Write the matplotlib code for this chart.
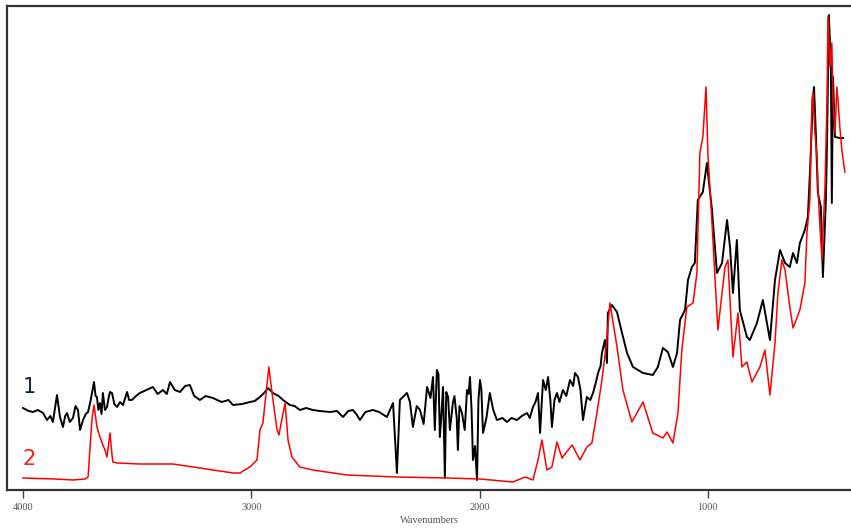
import numpy as np
import matplotlib
matplotlib.use("Agg")
import matplotlib.pyplot as plt

# spectrum 2 (red)
wn_2 = [4000, 3860, 3781, 3728, 3715, 3698, 3689, 3676, 3663, 3650, 3641, 3632, 3619, 3610,
        3606, 3588, 3488, 3343, 3225, 3080, 3050, 3006, 2975, 2962, 2949, 2923, 2909, 2887,
        2879, 2852, 2839, 2822, 2787, 2730, 2581, 2362, 2143, 1998, 1854, 1801, 1766, 1744,
        1727, 1705, 1683, 1661, 1639, 1595, 1560, 1530, 1508, 1486, 1464, 1446, 1429, 1398,
        1372, 1333, 1284, 1241, 1197, 1179, 1153, 1131, 1114, 1092, 1065, 1048, 1035, 1022,
        1008, 1000, 982, 969, 956, 938, 925, 912, 903, 890, 868, 851, 829, 807, 772, 750,
        728, 706, 693, 676, 662, 641, 627, 597, 575, 566, 553, 544, 540, 531, 522, 518,
        509, 500, 496, 487, 478, 474, 465, 457, 452, 443, 435, 430, 422, 413, 400]
abs_2 = [0.060, 0.055, 0.050, 0.055, 0.065, 0.350, 0.425, 0.315, 0.265, 0.225, 0.200, 0.165,
         0.285, 0.175, 0.140, 0.135, 0.130, 0.130, 0.110, 0.085, 0.085, 0.115, 0.150, 0.300,
         0.335, 0.615, 0.485, 0.300, 0.275, 0.435, 0.250, 0.165, 0.115, 0.100, 0.075, 0.065,
         0.060, 0.055, 0.040, 0.065, 0.050, 0.150, 0.250, 0.100, 0.115, 0.240, 0.160, 0.225,
         0.150, 0.215, 0.235, 0.385, 0.550, 0.715, 0.935, 0.715, 0.500, 0.340, 0.440, 0.285,
         0.260, 0.290, 0.235, 0.385, 0.700, 0.915, 0.935, 1.085, 1.685, 1.765, 2.015, 1.685,
         1.335, 1.065, 0.800, 0.985, 1.115, 1.150, 0.950, 0.665, 0.885, 0.615, 0.640, 0.540,
         0.615, 0.700, 0.475, 0.735, 0.985, 1.150, 1.100, 0.915, 0.810, 0.900, 1.035, 1.285,
         1.450, 1.950, 1.985, 1.785, 1.665, 1.515, 1.315, 1.150, 1.285, 1.515, 1.950, 2.365,
         2.115, 2.235, 1.950, 1.785, 2.015, 1.950, 1.815, 1.700, 1.590]

# spectrum 1 (black), noisy
wn_1 = [4000, 3975, 3956, 3935, 3912, 3895, 3880, 3869, 3851, 3838,
        3825, 3815, 3807, 3795, 3781, 3770, 3759, 3750, 3737, 3725,
        3715, 3705, 3698, 3689, 3682, 3676, 3670, 3663, 3656, 3650,
        3641, 3632, 3625, 3619, 3610, 3600, 3588, 3575, 3562, 3544,
        3535, 3523, 3505, 3488, 3460, 3431, 3410, 3387, 3370, 3356,
        3335, 3312, 3290, 3269, 3250, 3225, 3200, 3168, 3130, 3100,
        3080, 3040, 3006, 2985, 2962, 2940, 2927, 2905, 2880, 2861,
        2831, 2810, 2787, 2760, 2730, 2700, 2655, 2625, 2598, 2575,
        2555, 2540, 2524, 2500, 2467, 2440, 2406, 2379, 2362, 2349,
        2318, 2305, 2292, 2275, 2261, 2245, 2230, 2215, 2204, 2196,
        2187, 2180, 2174, 2168, 2160, 2152, 2146, 2138, 2130, 2117,
        2110, 2100, 2095, 2088, 2077, 2065, 2055, 2048, 2042, 2035,
        2029, 2020, 2011, 2005, 1998, 1992, 1985, 1970, 1955, 1940,
        1924, 1900, 1880, 1860, 1836, 1815, 1792, 1780, 1766, 1755,
        1744, 1735, 1722, 1710, 1700, 1690, 1683, 1672, 1661, 1650,
        1635, 1620, 1604, 1590, 1582, 1569, 1558, 1547, 1530, 1515,
        1503, 1490, 1481, 1470, 1464, 1451, 1442, 1438, 1420, 1398,
        1376, 1354, 1328, 1284, 1241, 1219, 1197, 1175, 1153, 1135,
        1122, 1100, 1087, 1070, 1057, 1044, 1022, 1004, 995, 982,
        960, 938, 916, 903, 890, 873, 860, 829, 816, 785,
        759, 728, 706, 684, 662, 641, 627, 610, 597, 575,
        562, 553, 540, 535, 527, 518, 505, 496, 483, 478,
        470, 461, 457, 452, 443, 422, 408]
abs_1 = [0.410, 0.395, 0.390, 0.400, 0.385, 0.350, 0.370, 0.340, 0.475, 0.365,
         0.315, 0.370, 0.385, 0.340, 0.360, 0.420, 0.400, 0.300, 0.350, 0.380,
         0.390, 0.440, 0.485, 0.540, 0.470, 0.465, 0.400, 0.435, 0.380, 0.485,
         0.400, 0.415, 0.460, 0.490, 0.485, 0.430, 0.415, 0.440, 0.425, 0.490,
         0.450, 0.450, 0.470, 0.485, 0.500, 0.515, 0.480, 0.500, 0.480, 0.540,
         0.500, 0.490, 0.520, 0.525, 0.470, 0.450, 0.470, 0.460, 0.440, 0.450,
         0.425, 0.430, 0.440, 0.445, 0.465, 0.490, 0.510, 0.485, 0.470, 0.450,
         0.425, 0.420, 0.400, 0.410, 0.400, 0.395, 0.390, 0.395, 0.365, 0.395,
         0.400, 0.380, 0.350, 0.390, 0.400, 0.390, 0.365, 0.435, 0.085, 0.450,
         0.485, 0.440, 0.315, 0.420, 0.400, 0.330, 0.515, 0.460, 0.565, 0.300,
         0.600, 0.580, 0.265, 0.360, 0.515, 0.060, 0.490, 0.465, 0.300, 0.435,
         0.470, 0.360, 0.200, 0.420, 0.385, 0.300, 0.500, 0.480, 0.565, 0.400,
         0.150, 0.220, 0.050, 0.450, 0.550, 0.500, 0.285, 0.360, 0.485, 0.400,
         0.350, 0.360, 0.340, 0.360, 0.350, 0.370, 0.385, 0.360, 0.415, 0.440,
         0.485, 0.285, 0.550, 0.500, 0.565, 0.450, 0.315, 0.450, 0.485, 0.440,
         0.500, 0.470, 0.550, 0.520, 0.585, 0.565, 0.500, 0.350, 0.465, 0.450,
         0.485, 0.540, 0.585, 0.620, 0.685, 0.750, 0.635, 0.885, 0.925, 0.890,
         0.785, 0.685, 0.615, 0.585, 0.575, 0.615, 0.710, 0.690, 0.615, 0.685,
         0.850, 0.900, 1.050, 1.115, 1.135, 1.450, 1.490, 1.635, 1.535, 1.400,
         1.085, 1.135, 1.350, 1.215, 0.985, 1.250, 0.900, 0.765, 0.750, 0.835,
         0.950, 0.750, 1.050, 1.200, 1.135, 1.115, 1.185, 1.135, 1.235, 1.300,
         1.365, 1.585, 1.950, 2.015, 1.785, 1.485, 1.415, 1.065, 1.450, 1.735,
         2.375, 2.115, 1.435, 2.065, 1.765, 1.760, 1.760]

x_ticks = [4000, 3000, 2000, 1000]
x_label = "Wavenumbers"
names = ["1", "2"]

assert len(wn_1) == len(abs_1) and len(wn_2) == len(abs_2)

fig = plt.figure(figsize=(8.51, 5.30), dpi=100)
ax = fig.add_axes([7 / 851, 40 / 530, 1 - 7 / 851, 484 / 530])

ax.plot(wn_1, abs_1, color="black", lw=1.4)
ax.plot(wn_2, abs_2, color="#ff0000", lw=1.1)

ax.text(4000, 0.515, names[0], color="#15213a", fontsize=15, ha="left", va="center",
        family="DejaVu Sans")
ax.text(4000, 0.155, names[1], color="#ff1a1a", fontsize=15, ha="left", va="center",
        family="DejaVu Sans")

ax.set_xlim(4070, 373)
ax.set_ylim(0, 2.42)
ax.set_xticks(x_ticks)
ax.set_xticklabels([str(t) for t in x_ticks], fontsize=7.5, color="#555555",
                   family="Liberation Serif")
ax.set_yticks([])
ax.tick_params(axis="x", direction="out", length=6, width=1, color="#444444", pad=3)
ax.set_xlabel(x_label, fontsize=7.5, color="#555555", family="Liberation Serif", labelpad=3)

for s in ["left", "top", "bottom"]:
    ax.spines[s].set_color("#333333")
    ax.spines[s].set_linewidth(1.6)
ax.spines["right"].set_visible(False)

fig.savefig("out.png", dpi=100)
